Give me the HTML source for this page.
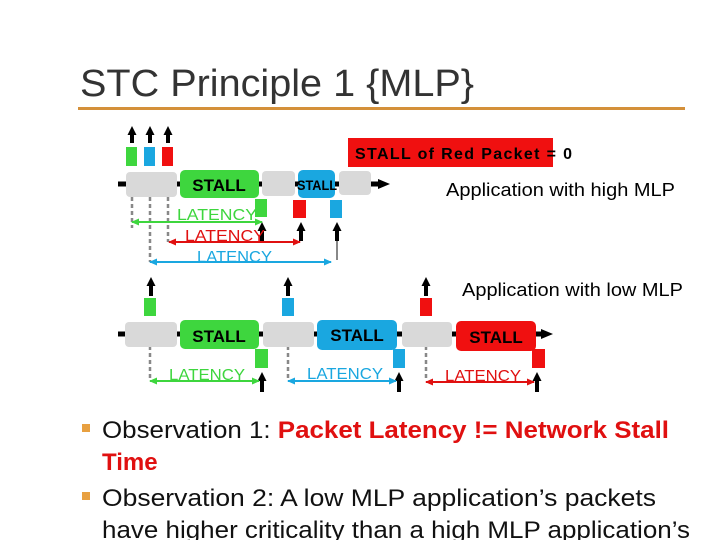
<!DOCTYPE html>
<html><head><meta charset="utf-8"><style>
html,body{margin:0;padding:0;background:#fff;}
body{width:720px;height:540px;overflow:hidden;position:relative;font-family:"Liberation Sans",Arial,sans-serif;}
</style></head><body>
<svg width="720" height="540" viewBox="0 0 720 540" xmlns="http://www.w3.org/2000/svg" style="position:absolute;left:0;top:0" font-family="'Liberation Sans', Arial, sans-serif">
<defs>
<marker id="ah" markerUnits="userSpaceOnUse" markerWidth="10" markerHeight="10" refX="5" refY="5" orient="auto"><path d="M0,0.5 L9,5 L0,9.5 z" fill="#000"/></marker>
<marker id="g" markerUnits="userSpaceOnUse" markerWidth="8" markerHeight="8" refX="7" refY="4" orient="auto-start-reverse"><path d="M0,0.5 L8,4 L0,7.5 z" fill="#3ed63e"/></marker>
<marker id="r" markerUnits="userSpaceOnUse" markerWidth="8" markerHeight="8" refX="7" refY="4" orient="auto-start-reverse"><path d="M0,0.5 L8,4 L0,7.5 z" fill="#e01010"/></marker>
<marker id="b" markerUnits="userSpaceOnUse" markerWidth="8" markerHeight="8" refX="7" refY="4" orient="auto-start-reverse"><path d="M0,0.5 L8,4 L0,7.5 z" fill="#1aa7e0"/></marker>
</defs>
<text x="80" y="96" font-size="38" fill="#333" textLength="394" lengthAdjust="spacingAndGlyphs">STC Principle 1 {MLP}</text>
<rect x="78" y="107" width="607" height="3" fill="#d4903a"/>

<!-- Top diagram -->
<g stroke="#000" stroke-width="4" marker-end="url(#ah)">
<line x1="132" y1="143" x2="132" y2="130"/><line x1="150" y1="143" x2="150" y2="130"/><line x1="168" y1="143" x2="168" y2="130"/>
</g>
<rect x="126" y="147" width="11" height="19" fill="#3ed63e"/>
<rect x="144" y="147" width="11" height="19" fill="#1aa7e0"/>
<rect x="162" y="147" width="11" height="19" fill="#f01010"/>
<line x1="118" y1="184" x2="380" y2="184" stroke="#000" stroke-width="5"/>
<path d="M378,179 L390,184 L378,189 z" fill="#000"/>
<g stroke="#888" stroke-width="2.5" stroke-dasharray="4,3">
<line x1="132" y1="197" x2="132" y2="228"/><line x1="150" y1="197" x2="150" y2="262"/><line x1="168" y1="197" x2="168" y2="242"/>
</g>
<rect x="126" y="172" width="51" height="25" rx="4" fill="#d9d9d9"/>
<rect x="180" y="170" width="79" height="28" rx="5" fill="#3ed63e"/>
<text x="219" y="191" font-size="17" font-weight="bold" text-anchor="middle">STALL</text>
<rect x="262" y="171" width="33" height="25" rx="4" fill="#d9d9d9"/>
<rect x="298" y="170" width="37" height="28" rx="5" fill="#1aa7e0"/>
<text x="297" y="190" font-size="14" font-weight="bold" textLength="40" lengthAdjust="spacingAndGlyphs">STALL</text>
<rect x="339" y="171" width="32" height="24" rx="4" fill="#d9d9d9"/>
<rect x="255" y="199" width="12" height="18" fill="#3ed63e"/>
<rect x="293" y="200" width="13" height="18" fill="#f01010"/>
<rect x="330" y="200" width="12" height="18" fill="#1aa7e0"/>
<line x1="337" y1="240" x2="337" y2="260" stroke="#888" stroke-width="2"/>
<g stroke="#000" stroke-width="4" marker-end="url(#ah)">
<line x1="262" y1="241" x2="262" y2="226"/><line x1="301" y1="241" x2="301" y2="226"/><line x1="337" y1="241" x2="337" y2="226"/>
</g>
<text x="177" y="220" font-size="16" fill="#3ed63e" textLength="80" lengthAdjust="spacingAndGlyphs">LATENCY</text>
<line x1="132" y1="222" x2="262" y2="222" stroke="#3ed63e" stroke-width="2" marker-start="url(#g)" marker-end="url(#g)"/>
<text x="185" y="241" font-size="16" fill="#e01010" textLength="80" lengthAdjust="spacingAndGlyphs">LATENCY</text>
<line x1="169" y1="242" x2="300" y2="242" stroke="#e01010" stroke-width="2" marker-start="url(#r)" marker-end="url(#r)"/>
<text x="197" y="262" font-size="16" fill="#1aa7e0" textLength="75" lengthAdjust="spacingAndGlyphs">LATENCY</text>
<line x1="150" y1="262" x2="331" y2="262" stroke="#1aa7e0" stroke-width="2" marker-start="url(#b)" marker-end="url(#b)"/>

<rect x="348" y="138" width="205" height="29" fill="#f01010"/>
<text x="355" y="159" font-size="16" font-weight="bold" textLength="217">STALL of  Red Packet = 0</text>
<text x="446" y="196" font-size="18" textLength="229" lengthAdjust="spacingAndGlyphs">Application with high MLP</text>
<text x="462" y="296" font-size="18" textLength="221" lengthAdjust="spacingAndGlyphs">Application with low MLP</text>

<!-- Bottom diagram -->
<line x1="118" y1="334" x2="543" y2="334" stroke="#000" stroke-width="5"/>
<path d="M541,329 L553,334 L541,339 z" fill="#000"/>
<g stroke="#888" stroke-width="2.5" stroke-dasharray="4,3">
<line x1="150" y1="346" x2="150" y2="381"/><line x1="288" y1="346" x2="288" y2="381"/><line x1="426" y1="346" x2="426" y2="381"/>
</g>
<g stroke="#000" stroke-width="4" marker-end="url(#ah)">
<line x1="151" y1="296" x2="151" y2="281"/><line x1="288" y1="296" x2="288" y2="281"/><line x1="426" y1="296" x2="426" y2="281"/>
<line x1="262" y1="392" x2="262" y2="376"/><line x1="399" y1="392" x2="399" y2="376"/><line x1="537" y1="392" x2="537" y2="376"/>
</g>
<rect x="144" y="298" width="12" height="18" fill="#3ed63e"/>
<rect x="282" y="298" width="12" height="18" fill="#1aa7e0"/>
<rect x="420" y="298" width="12" height="18" fill="#f01010"/>
<rect x="125" y="322" width="52" height="25" rx="4" fill="#d9d9d9"/>
<rect x="180" y="320" width="79" height="29" rx="5" fill="#3ed63e"/>
<text x="219" y="342" font-size="17" font-weight="bold" text-anchor="middle">STALL</text>
<rect x="263" y="322" width="51" height="25" rx="4" fill="#d9d9d9"/>
<rect x="317" y="320" width="80" height="30" rx="5" fill="#1aa7e0"/>
<text x="357" y="341" font-size="17" font-weight="bold" text-anchor="middle">STALL</text>
<rect x="402" y="322" width="50" height="25" rx="4" fill="#d9d9d9"/>
<rect x="456" y="321" width="80" height="30" rx="5" fill="#f01010"/>
<text x="496" y="343" font-size="17" font-weight="bold" text-anchor="middle">STALL</text>
<rect x="255" y="349" width="13" height="19" fill="#3ed63e"/>
<rect x="393" y="349" width="12" height="19" fill="#1aa7e0"/>
<rect x="532" y="349" width="13" height="19" fill="#f01010"/>
<text x="169" y="380" font-size="16" fill="#3ed63e" textLength="76" lengthAdjust="spacingAndGlyphs">LATENCY</text>
<line x1="150" y1="381" x2="259" y2="381" stroke="#3ed63e" stroke-width="2" marker-start="url(#g)" marker-end="url(#g)"/>
<text x="307" y="379" font-size="16" fill="#1aa7e0" textLength="76" lengthAdjust="spacingAndGlyphs">LATENCY</text>
<line x1="288" y1="381" x2="396" y2="381" stroke="#1aa7e0" stroke-width="2" marker-start="url(#b)" marker-end="url(#b)"/>
<text x="445" y="381" font-size="16" fill="#e01010" textLength="76" lengthAdjust="spacingAndGlyphs">LATENCY</text>
<line x1="426" y1="382" x2="534" y2="382" stroke="#e01010" stroke-width="2" marker-start="url(#r)" marker-end="url(#r)"/>

<!-- Bullets -->
<rect x="82" y="424" width="8" height="8" fill="#e8a040"/>
<rect x="82" y="492" width="8" height="8" fill="#e8a040"/>
<text x="102" y="438" font-size="24" fill="#111" textLength="567" lengthAdjust="spacingAndGlyphs">Observation 1: <tspan fill="#e01010" font-weight="bold">Packet Latency != Network Stall</tspan></text>
<text x="102" y="470" font-size="24" fill="#e01010" font-weight="bold">Time</text>
<text x="102" y="506" font-size="24" fill="#111" textLength="554" lengthAdjust="spacingAndGlyphs">Observation 2: A low MLP application’s  packets</text>
<text x="102" y="538" font-size="24" fill="#111" textLength="588" lengthAdjust="spacingAndGlyphs">have higher criticality than a high MLP application’s</text>
</svg>
</body></html>
